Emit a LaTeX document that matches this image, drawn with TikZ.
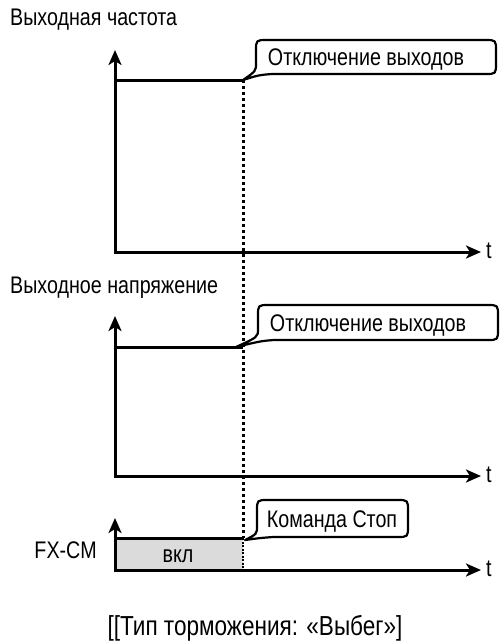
\documentclass[tikz,border=0pt]{standalone}
\usepackage{fontspec}
\setmainfont[FakeStretch=0.82]{Liberation Sans}
\usetikzlibrary{arrows.meta}
\newcommand{\mybubble}[5]{%
  \draw[bubble] (#5) .. controls ({#1+3},{#4+1}) .. ({#1+16},#4)
    -- ({#3-11},#4) .. controls (#3,#4) .. (#3,{#4-11})
    -- (#3,{#2+11}) .. controls (#3,#2) .. ({#3-11},#2)
    -- ({#1+11},#2) .. controls (#1,#2) .. (#1,{#2+11})
    -- (#1,{#4-11}) .. controls (#1,{#4-3}) .. (#5) -- cycle;}
\begin{document}
\begin{tikzpicture}[x=1pt,y=-1pt,
  axis/.style={line width=3pt, {Stealth[length=15pt,width=13pt,inset=4pt]}-{Stealth[length=15pt,width=13pt,inset=4pt]}},
  level/.style={line width=3pt},
  guide/.style={line width=3pt, dash pattern=on 3pt off 3pt},
  thinguide/.style={line width=1.2pt, dash pattern=on 2pt off 1.5pt},
  bubble/.style={line width=2.2pt, fill=white, line join=round},
  lbl/.style={font=\fontsize{24}{26}\selectfont, inner sep=0pt},
  captionlbl/.style={font=\fontsize{27.5}{30}\selectfont, inner sep=0pt}]
\useasboundingbox (0,0) rectangle (502,641);

% titles
\node[lbl, anchor=base west] (t1) at (10,25) {Выходная частота};
\node[lbl, anchor=base west] (t2) at (10,293) {Выходное напряжение};

% graph 1
\coordinate (y1) at (115,50);
\coordinate (o1) at (115,252);
\coordinate (x1) at (481,252);
\draw[axis] (y1) -- (o1) -- (x1);
\node[lbl, anchor=base west] (tt1) at (486,258) {t};
\coordinate (a1) at (115,80);
\coordinate (b1) at (243,80);
\draw[level] (a1) -- (b1);

% graph 2
\coordinate (y2) at (115,316);
\coordinate (o2) at (115,476);
\coordinate (x2) at (481,476);
\draw[axis] (y2) -- (o2) -- (x2);
\node[lbl, anchor=base west] (tt2) at (486,482) {t};
\coordinate (a2) at (115,347);
\coordinate (b2) at (243,347);
\draw[level] (a2) -- (b2);
\coordinate (tip2) at (236,347);

% graph 3
\coordinate (y3) at (115,518);
\coordinate (o3) at (115,570);
\coordinate (x3) at (481,570);
\coordinate (r1) at (243,538);
\coordinate (r2) at (243,570);
\coordinate (r0) at (115,538);
\fill[gray!28] (r0) rectangle (r2);
\draw[axis] (y3) -- (o3) -- (x3);
\draw[level] (r0) -- (r1);
\draw[thinguide] (r1) -- (r2);
\node[lbl, anchor=base west] (tt3) at (486,576) {t};
\node[lbl, anchor=base] (on) at (178,562) {вкл};
\node[lbl, anchor=base east] (fx) at (97,558) {FX-CM};
\coordinate (tip3) at (245,540);

% dotted guide
\draw[guide] (b1) -- (r1);

% callouts
\mybubble{256}{40}{496}{74}{b1}
\node[lbl, anchor=base] (c1) at (366,65) {Отключение выходов};
\mybubble{258}{305}{498}{340}{tip2}
\node[lbl, anchor=base] (c2) at (368,331) {Отключение выходов};
\mybubble{257}{500}{408}{537}{tip3}
\node[lbl, anchor=base] (c3) at (332,527) {Команда Стоп};

% caption
\node[captionlbl, anchor=base] (caption) at (255,635) {[[Тип торможения: «Выбег»]};
\end{tikzpicture}
\end{document}
